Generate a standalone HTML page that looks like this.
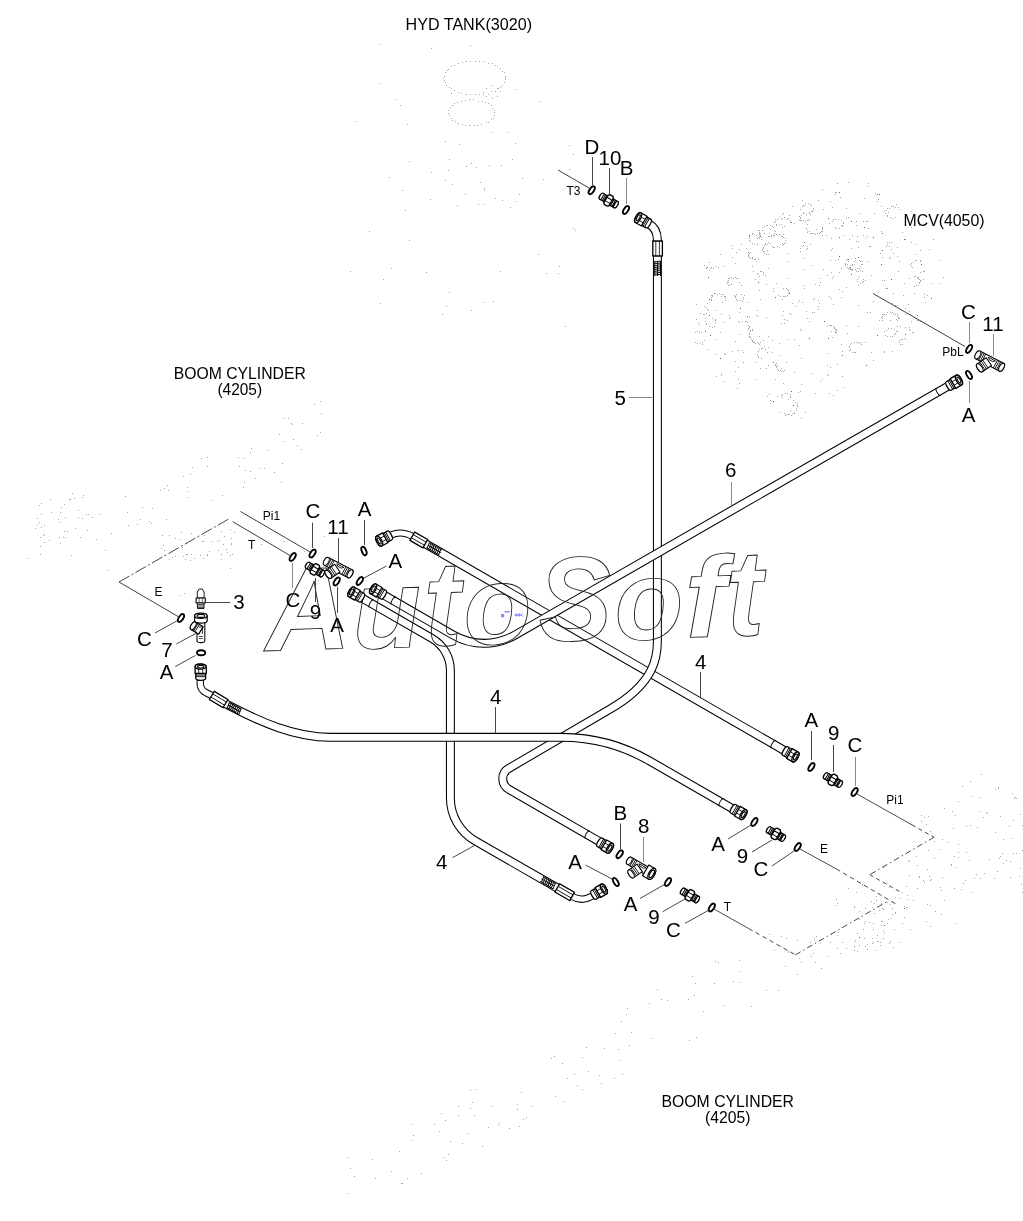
<!DOCTYPE html>
<html><head><meta charset="utf-8"><title>Hydraulic piping</title>
<style>
html,body{margin:0;padding:0;background:#fff;}
svg{display:block;will-change:transform;font-family:"Liberation Sans",sans-serif;}
svg text{fill:#000;}
</style></head><body>
<svg width="1023" height="1221" viewBox="0 0 1023 1221">
<rect width="1023" height="1221" fill="#fff"/>
<path d="M505,77.5h1M505,79.5h1M504,82.5h1M502,85.5h1M500,87.5h1M497,88.5h1M495,91.5h1M491,91.5h1M488,94.5h1M483,94.5h1M479,94.5h1M475,94.5h1M470,94.5h1M466,94.5h1M461,93.5h1M458,92.5h1M454,90.5h1M451,88.5h1M449,87.5h1M446,85.5h1M445,82.5h1M444,80.5h1M443,78.5h1M444,76.5h1M445,72.5h1M447,70.5h1M448,69.5h1M451,66.5h1M454,65.5h1M458,63.5h1M462,62.5h1M466,61.5h1M470,61.5h1M475,61.5h1M479,61.5h1M483,61.5h1M488,63.5h1M492,63.5h1M495,65.5h1M497,66.5h1M500,68.5h1M502,71.5h1M504,72.5h1M505,76.5h1M494,112.5h1M494,115.5h1M493,118.5h1M491,119.5h1M488,122.5h1M486,122.5h1M481,124.5h1M477,125.5h1M474,125.5h1M469,125.5h1M465,125.5h1M462,124.5h1M458,123.5h1M455,121.5h1M452,120.5h1M451,118.5h1M449,115.5h1M448,113.5h1M448,110.5h1M450,107.5h1M452,105.5h1M454,103.5h1M457,102.5h1M461,101.5h1M465,100.5h1M469,99.5h1M473,99.5h1M478,101.5h1M482,101.5h1M485,102.5h1M488,103.5h1M491,105.5h1M492,108.5h1M494,110.5h1M500,91.5h1M497,96.5h1M492,98.5h1M486,96.5h1M483,92.5h1M486,88.5h1M491,85.5h1M498,88.5h1M546,273.5h1M538,254.5h1M402,190.5h1M431,48.5h1M356,121.5h1M409,240.5h1M569,169.5h1M565,326.5h1M569,145.5h1M400,105.5h1M395,99.5h1M493,301.5h1M543,179.5h1M500,271.5h1M369,231.5h1M559,266.5h1M522,178.5h1M391,268.5h1M426,272.5h1M573,154.5h1M442,314.5h1M516,89.5h1M379,83.5h1M558,273.5h1M383,279.5h1M575,230.5h1M430,199.5h1M380,44.5h1M573,228.5h1M471,310.5h1M449,292.5h1M540,101.5h1M407,124.5h1M405,210.5h1M409,161.5h1M380,303.5h1M431,172.5h1M484,302.5h1M446,306.5h1M465,194.5h1M470,45.5h1M451,93.5h1M350,271.5h1M389,177.5h1M516,201.5h1M466,166.5h1M484,190.5h1M448,170.5h1M459,144.5h1M501,165.5h1M484,188.5h1M512,159.5h1M489,165.5h1M480,182.5h1M476,167.5h1M478,204.5h1M495,198.5h1M515,143.5h1M484,204.5h1M507,132.5h1M449,159.5h1M445,141.5h1M445,180.5h1M502,200.5h1M452,184.5h1M492,132.5h1M510,207.5h1M457,205.5h1M471,163.5h1M519,194.5h1M731,284.5h1M729,284.5h1M727,283.5h1M728,282.5h1M727,281.5h1M728,280.5h1M728,278.5h1M729,278.5h1M731,277.5h1M733,278.5h1M735,277.5h1M736,278.5h1M738,278.5h1M863,279.5h1M863,281.5h1M862,282.5h1M860,283.5h1M857,281.5h1M857,279.5h1M858,277.5h1M768,254.5h1M766,254.5h1M766,254.5h1M764,253.5h1M764,251.5h1M763,251.5h1M762,250.5h1M762,249.5h1M763,248.5h1M763,247.5h1M764,245.5h1M765,244.5h1M765,243.5h1M767,244.5h1M768,242.5h1M770,243.5h1M902,344.5h1M900,344.5h1M899,342.5h1M899,340.5h1M901,339.5h1M902,339.5h1M904,338.5h1M906,339.5h1M762,230.5h1M762,227.5h1M764,226.5h1M766,225.5h1M767,225.5h1M770,225.5h1M772,226.5h1M773,227.5h1M774,230.5h1M775,231.5h1M774,233.5h1M773,235.5h1M771,235.5h1M768,236.5h1M827,326.5h1M827,326.5h1M829,325.5h1M830,325.5h1M831,325.5h1M833,326.5h1M834,328.5h1M834,327.5h1M835,329.5h1M836,329.5h1M836,330.5h1M835,331.5h1M836,332.5h1M835,332.5h1M855,352.5h1M854,352.5h1M852,352.5h1M849,350.5h1M850,349.5h1M849,347.5h1M849,346.5h1M850,344.5h1M851,343.5h1M854,342.5h1M856,342.5h1M858,342.5h1M859,343.5h1M861,342.5h1M861,344.5h1M800,251.5h1M800,248.5h1M800,248.5h1M802,246.5h1M803,245.5h1M807,246.5h1M807,248.5h1M806,249.5h1M757,244.5h1M754,244.5h1M752,243.5h1M750,241.5h1M749,240.5h1M749,238.5h1M749,236.5h1M752,234.5h1M754,234.5h1M756,235.5h1M760,235.5h1M761,237.5h1M761,239.5h1M822,227.5h1M822,228.5h1M822,229.5h1M822,231.5h1M821,231.5h1M820,232.5h1M819,233.5h1M817,233.5h1M817,233.5h1M815,234.5h1M814,233.5h1M812,233.5h1M811,233.5h1M810,233.5h1M809,231.5h1M807,232.5h1M807,230.5h1M806,228.5h1M793,400.5h1M795,402.5h1M797,403.5h1M797,405.5h1M797,406.5h1M796,408.5h1M796,410.5h1M796,410.5h1M794,412.5h1M794,413.5h1M792,413.5h1M791,415.5h1M789,414.5h1M788,414.5h1M786,414.5h1M786,414.5h1M784,413.5h1M758,230.5h1M759,230.5h1M759,232.5h1M759,233.5h1M760,233.5h1M759,234.5h1M760,236.5h1M759,236.5h1M759,238.5h1M758,237.5h1M757,238.5h1M852,270.5h1M852,270.5h1M851,269.5h1M849,269.5h1M850,268.5h1M849,267.5h1M850,267.5h1M850,265.5h1M852,264.5h1M852,265.5h1M854,264.5h1M769,236.5h1M771,236.5h1M774,235.5h1M776,234.5h1M777,235.5h1M781,236.5h1M782,236.5h1M783,237.5h1M785,238.5h1M785,240.5h1M785,242.5h1M784,243.5h1M783,244.5h1M782,245.5h1M779,247.5h1M777,246.5h1M774,247.5h1M773,247.5h1M772,246.5h1M711,300.5h1M711,299.5h1M711,297.5h1M712,296.5h1M712,295.5h1M714,293.5h1M715,293.5h1M717,294.5h1M719,293.5h1M721,294.5h1M723,294.5h1M724,296.5h1M725,296.5h1M725,298.5h1M725,300.5h1M912,267.5h1M911,266.5h1M910,264.5h1M911,263.5h1M913,262.5h1M915,260.5h1M916,260.5h1M920,260.5h1M924,271.5h1M923,271.5h1M920,272.5h1M784,226.5h1M782,227.5h1M779,225.5h1M776,225.5h1M776,224.5h1M774,222.5h1M775,221.5h1M775,219.5h1M777,219.5h1M779,217.5h1M782,218.5h1M784,217.5h1M787,219.5h1M788,218.5h1M790,220.5h1M790,222.5h1M895,217.5h1M892,218.5h1M890,217.5h1M887,216.5h1M887,215.5h1M885,213.5h1M886,210.5h1M887,208.5h1M889,208.5h1M891,206.5h1M893,206.5h1M895,207.5h1M898,207.5h1M899,209.5h1M809,219.5h1M808,220.5h1M807,220.5h1M805,221.5h1M803,220.5h1M801,220.5h1M800,218.5h1M800,218.5h1M800,217.5h1M799,216.5h1M801,215.5h1M803,213.5h1M715,266.5h1M713,268.5h1M711,267.5h1M710,268.5h1M707,267.5h1M706,268.5h1M706,267.5h1M704,265.5h1M784,370.5h1M783,371.5h1M781,371.5h1M780,370.5h1M778,370.5h1M778,370.5h1M777,369.5h1M776,367.5h1M776,366.5h1M775,365.5h1M775,364.5h1M776,363.5h1M829,223.5h1M829,223.5h1M832,221.5h1M833,219.5h1M835,219.5h1M838,219.5h1M841,220.5h1M843,222.5h1M843,223.5h1M842,225.5h1M842,226.5h1M839,228.5h1M836,228.5h1M835,227.5h1M738,321.5h1M739,322.5h1M742,321.5h1M742,321.5h1M745,321.5h1M746,321.5h1M746,321.5h1M747,322.5h1M748,325.5h1M749,326.5h1M749,327.5h1M748,328.5h1M748,329.5h1M760,342.5h1M759,344.5h1M758,343.5h1M757,342.5h1M755,343.5h1M754,342.5h1M753,342.5h1M752,341.5h1M752,340.5h1M751,339.5h1M750,337.5h1M749,337.5h1M749,336.5h1M749,333.5h1M749,334.5h1M750,331.5h1M750,330.5h1M752,330.5h1M752,329.5h1M712,318.5h1M715,319.5h1M715,320.5h1M715,322.5h1M714,326.5h1M712,327.5h1M709,326.5h1M706,324.5h1M706,323.5h1M705,321.5h1M705,318.5h1M761,358.5h1M758,357.5h1M758,356.5h1M757,354.5h1M758,351.5h1M759,349.5h1M761,348.5h1M762,348.5h1M765,349.5h1M765,349.5h1M767,352.5h1M741,294.5h1M744,295.5h1M743,297.5h1M743,299.5h1M742,301.5h1M740,300.5h1M737,300.5h1M736,299.5h1M735,297.5h1M734,295.5h1M736,294.5h1M782,397.5h1M781,395.5h1M782,394.5h1M785,393.5h1M787,393.5h1M790,394.5h1M790,396.5h1M790,397.5h1M788,399.5h1M758,259.5h1M755,259.5h1M754,259.5h1M754,259.5h1M752,258.5h1M750,258.5h1M749,257.5h1M748,255.5h1M748,256.5h1M748,254.5h1M749,253.5h1M748,252.5h1M750,252.5h1M914,276.5h1M915,276.5h1M917,277.5h1M918,277.5h1M918,278.5h1M919,279.5h1M920,280.5h1M920,281.5h1M919,282.5h1M919,283.5h1M918,285.5h1M916,285.5h1M916,285.5h1M914,286.5h1M704,306.5h1M706,307.5h1M707,309.5h1M708,310.5h1M706,313.5h1M704,314.5h1M703,314.5h1M700,313.5h1M758,274.5h1M757,273.5h1M760,271.5h1M761,271.5h1M763,272.5h1M763,274.5h1M884,331.5h1M886,330.5h1M888,328.5h1M891,328.5h1M894,329.5h1M896,331.5h1M895,333.5h1M894,334.5h1M892,336.5h1M890,336.5h1M887,336.5h1M885,335.5h1M859,260.5h1M860,261.5h1M862,261.5h1M861,264.5h1M862,264.5h1M860,266.5h1M859,268.5h1M857,268.5h1M855,269.5h1M852,269.5h1M850,269.5h1M848,268.5h1M847,267.5h1M845,265.5h1M845,264.5h1M845,263.5h1M846,260.5h1M847,259.5h1M800,209.5h1M802,206.5h1M803,205.5h1M805,203.5h1M808,203.5h1M810,204.5h1M811,205.5h1M813,208.5h1M813,210.5h1M812,211.5h1M811,211.5h1M809,213.5h1M806,214.5h1M783,288.5h1M786,288.5h1M787,289.5h1M788,290.5h1M789,292.5h1M789,293.5h1M788,293.5h1M787,295.5h1M786,296.5h1M784,296.5h1M783,296.5h1M780,296.5h1M778,295.5h1M918,320.5h1M920,321.5h1M913,332.5h1M912,332.5h1M910,330.5h1M909,327.5h1M882,320.5h1M882,318.5h1M881,317.5h1M882,316.5h1M882,314.5h1M883,314.5h1M884,314.5h1M886,314.5h1M887,312.5h1M890,312.5h1M892,312.5h1M893,313.5h1M895,314.5h1M897,314.5h1M897,316.5h1M898,317.5h1M898,318.5h1M899,318.5h1M704,340.5h1M704,340.5h1M702,342.5h1M700,343.5h1M697,343.5h1M695,342.5h1M695,332.5h1M697,331.5h1M699,332.5h1M701,332.5h1M889,246.5h1M886,246.5h1M887,244.5h1M887,242.5h1M889,242.5h1M891,242.5h1M828,374.5h1M743,362.5h1M841,344.5h1M807,224.5h1M756,362.5h1M885,288.5h1M716,376.5h1M881,231.5h1M908,304.5h1M809,321.5h1M738,350.5h1M782,315.5h1M792,303.5h1M720,332.5h1M884,211.5h1M838,259.5h1M903,295.5h1M831,238.5h1M882,280.5h1M829,393.5h1M805,412.5h1M839,272.5h1M756,315.5h1M856,271.5h1M803,212.5h1M756,261.5h1M884,352.5h1M858,247.5h1M837,364.5h1M720,254.5h1M810,214.5h1M867,221.5h1M728,285.5h1M897,331.5h1M804,258.5h1M893,293.5h1M846,208.5h1M867,312.5h1M759,276.5h1M897,256.5h1M735,296.5h1M771,401.5h1M856,225.5h1M810,244.5h1M870,246.5h1M889,258.5h1M895,305.5h1M739,282.5h1M832,207.5h1M738,367.5h1M866,221.5h1M841,297.5h1M842,351.5h1M890,320.5h1M871,275.5h1M868,186.5h1M890,257.5h1M914,293.5h1M905,239.5h1M739,383.5h1M783,213.5h1M784,323.5h1M696,304.5h1M802,302.5h1M724,353.5h1M772,352.5h1M786,362.5h1M924,297.5h1M818,306.5h1M755,379.5h1M863,221.5h1M699,324.5h1M833,304.5h1M864,198.5h1M813,299.5h1M792,206.5h1M837,390.5h1M730,317.5h1M874,213.5h1M788,278.5h1M897,305.5h1M790,411.5h1M882,257.5h1M752,257.5h1M707,303.5h1M755,279.5h1M847,264.5h1M822,189.5h1M799,300.5h1M849,239.5h1M858,241.5h1M844,235.5h1M820,282.5h1M768,336.5h1M724,322.5h1M925,302.5h1M759,290.5h1M823,209.5h1M765,275.5h1M764,233.5h1M716,310.5h1M897,326.5h1M832,337.5h1M743,352.5h1M806,311.5h1M842,291.5h1M769,233.5h1M748,302.5h1M787,320.5h1M902,232.5h1M829,296.5h1M766,368.5h1M904,283.5h1M709,270.5h1M801,358.5h1M732,257.5h1M779,343.5h1M843,387.5h1M892,303.5h1M873,360.5h1M878,292.5h1M884,351.5h1M879,320.5h1M832,278.5h1M841,268.5h1M804,288.5h1M869,246.5h1M789,313.5h1M787,253.5h1M815,284.5h1M739,249.5h1M729,318.5h1M835,194.5h1M916,254.5h1M797,403.5h1M831,298.5h1M819,303.5h1M860,270.5h1M781,323.5h1M779,412.5h1M858,305.5h1M718,267.5h1M791,314.5h1M833,395.5h1M927,295.5h1M801,330.5h1M822,379.5h1M736,252.5h1M818,200.5h1M909,278.5h1M732,245.5h1M818,300.5h1M846,325.5h1M848,182.5h1M794,372.5h1M768,347.5h1M897,320.5h1M856,221.5h1M814,312.5h1M759,336.5h1M833,276.5h1M878,199.5h1M820,381.5h1M842,376.5h1M880,253.5h1M867,261.5h1M835,260.5h1M803,269.5h1M800,329.5h1M770,400.5h1M891,249.5h1M753,271.5h1M868,228.5h1M769,394.5h1M811,373.5h1M781,219.5h1M830,201.5h1M823,269.5h1M724,381.5h1M779,234.5h1M741,244.5h1M855,258.5h1M732,351.5h1M896,204.5h1M801,384.5h1M888,212.5h1M780,355.5h1M785,415.5h1M816,229.5h1M804,205.5h1M865,238.5h1M911,321.5h1M783,234.5h1M841,225.5h1M818,309.5h1M760,368.5h1M787,339.5h1M831,250.5h1M737,388.5h1M772,340.5h1M721,314.5h1M782,299.5h1M770,229.5h1M725,354.5h1M763,274.5h1M702,344.5h1M854,261.5h1M794,339.5h1M863,235.5h1M899,261.5h1M846,218.5h1M871,352.5h1M768,268.5h1M848,217.5h1M897,316.5h1M867,236.5h1M799,345.5h1M900,326.5h1M721,373.5h1M875,193.5h1M862,271.5h1M923,279.5h1M846,287.5h1M708,349.5h1M798,302.5h1M757,310.5h1M826,235.5h1M709,262.5h1M794,223.5h1M865,342.5h1M752,233.5h1M819,285.5h1M920,261.5h1M767,396.5h1M729,315.5h1M775,379.5h1M827,365.5h1M735,341.5h1M839,289.5h1M781,224.5h1M742,350.5h1M802,200.5h1M773,291.5h1M782,214.5h1M715,354.5h1M721,296.5h1M799,220.5h1M852,235.5h1M897,247.5h1M739,334.5h1M735,371.5h1M893,253.5h1M783,311.5h1M783,383.5h1M831,331.5h1M892,351.5h1M814,298.5h1M732,248.5h1M835,192.5h1M860,213.5h1M801,418.5h1M800,220.5h1M884,280.5h1M763,340.5h1M819,278.5h1M776,283.5h1M766,284.5h1M830,260.5h1M773,288.5h1M858,326.5h1M766,317.5h1M924,294.5h1M851,248.5h1M777,396.5h1M858,285.5h1M715,339.5h1M784,319.5h1M795,306.5h1M831,272.5h1M909,311.5h1M822,235.5h1M812,312.5h1M749,317.5h1M722,302.5h1M836,192.5h1M800,391.5h1M827,353.5h1M877,201.5h1M789,215.5h1M881,206.5h1M752,266.5h1M698,322.5h1M746,248.5h1M865,280.5h1M909,329.5h1M905,314.5h1M735,361.5h1M777,365.5h1M724,266.5h1M868,183.5h1M840,197.5h1M827,375.5h1M857,236.5h1M741,285.5h1M896,319.5h1M721,375.5h1M739,312.5h1M764,346.5h1M905,308.5h1M815,393.5h1M738,379.5h1M858,271.5h1M809,212.5h1M898,271.5h1M905,327.5h1M837,183.5h1M735,263.5h1M807,318.5h1M788,261.5h1M696,319.5h1M856,241.5h1M760,299.5h1M758,316.5h1M830,367.5h1M847,333.5h1M782,243.5h1M768,365.5h1M873,301.5h1M848,261.5h1M827,275.5h1M811,265.5h1M804,285.5h1M832,248.5h1M767,250.5h1M870,312.5h1M917,320.5h1M781,368.5h1M798,392.5h1M711,295.5h1M911,242.5h1M943,277.5h1M911,227.5h1M933,239.5h1M931,283.5h1M940,283.5h1M926,216.5h1M916,244.5h1M911,211.5h1M920,250.5h1M939,260.5h1M929,249.5h1M919,225.5h1M99,514.5h1M314,404.5h1M244,458.5h1M92,517.5h1M260,468.5h1M250,471.5h1M238,457.5h1M88,514.5h1M187,487.5h1M187,497.5h1M283,441.5h1M71,555.5h1M166,519.5h1M284,418.5h1M244,482.5h1M239,466.5h1M251,448.5h1M250,452.5h1M149,521.5h1M282,463.5h1M142,507.5h1M320,432.5h1M137,524.5h1M264,468.5h1M188,491.5h1M167,485.5h1M160,490.5h1M40,554.5h1M152,508.5h1M302,423.5h1M125,496.5h1M183,476.5h1M297,445.5h1M192,467.5h1M168,490.5h1M207,466.5h1M279,434.5h1M190,474.5h1M201,458.5h1M105,550.5h1M111,533.5h1M291,423.5h1M317,435.5h1M151,523.5h1M28,558.5h1M207,457.5h1M292,424.5h1M140,519.5h1M255,478.5h1M288,418.5h1M321,413.5h1M212,500.5h1M293,439.5h1M320,401.5h1M96,539.5h1M40,537.5h1M63,537.5h1M65,517.5h1M35,528.5h1M37,524.5h1M51,512.5h1M69,499.5h1M40,546.5h1M49,540.5h1M82,518.5h1M82,497.5h1M59,522.5h1M37,518.5h1M39,522.5h1M60,512.5h1M41,514.5h1M44,542.5h1M60,543.5h1M59,537.5h1M64,531.5h1M43,535.5h1M39,505.5h1M61,507.5h1M83,495.5h1M64,504.5h1M65,537.5h1M72,493.5h1M44,525.5h1M67,531.5h1M78,510.5h1M78,517.5h1M86,514.5h1M44,534.5h1M70,499.5h1M41,503.5h1M58,519.5h1M75,528.5h1M41,527.5h1M80,537.5h1M50,499.5h1M87,530.5h1M74,498.5h1M221,559.5h1M227,552.5h1M221,554.5h1M202,541.5h1M221,554.5h1M224,536.5h1M231,544.5h1M230,529.5h1M232,554.5h1M175,556.5h1M191,533.5h1M194,558.5h1M209,551.5h1M186,554.5h1M218,550.5h1M230,555.5h1M207,555.5h1M182,547.5h1M221,554.5h1M219,540.5h1M203,541.5h1M181,532.5h1M183,556.5h1M204,535.5h1M162,535.5h1M211,541.5h1M207,554.5h1M164,550.5h1M169,535.5h1M231,538.5h1M172,557.5h1M203,558.5h1M186,543.5h1M231,543.5h1M234,532.5h1M221,531.5h1M169,559.5h1M191,554.5h1M175,538.5h1M163,545.5h1M223,544.5h1M185,559.5h1M226,549.5h1M161,548.5h1M190,560.5h1M180,539.5h1M243,487.5h1M217,541.5h1M308,509.5h1M180,595.5h1M108,570.5h1M255,520.5h1M200,555.5h1M304,551.5h1M318,580.5h1M128,525.5h1M187,554.5h1M245,470.5h1M274,472.5h1M222,495.5h1M324,536.5h1M284,541.5h1M184,593.5h1M261,544.5h1M230,568.5h1M281,482.5h1M127,512.5h1M301,449.5h1M268,450.5h1M164,488.5h1M984,873.5h1M854,907.5h1M703,1011.5h1M615,1033.5h1M769,934.5h1M488,1127.5h1M482,1146.5h1M739,960.5h1M689,1040.5h1M1013,820.5h1M472,1102.5h1M692,976.5h1M475,1089.5h1M348,1157.5h1M445,1120.5h1M724,1005.5h1M354,1176.5h1M840,953.5h1M651,1038.5h1M467,1133.5h1M412,1124.5h1M695,983.5h1M618,1049.5h1M854,906.5h1M411,1140.5h1M554,1056.5h1M999,858.5h1M526,1117.5h1M906,886.5h1M958,857.5h1M434,1124.5h1M509,1128.5h1M862,885.5h1M778,990.5h1M930,880.5h1M439,1131.5h1M956,867.5h1M470,1108.5h1M614,1078.5h1M348,1193.5h1M909,875.5h1M574,1074.5h1M450,1141.5h1M696,1037.5h1M739,982.5h1M375,1178.5h1M626,1014.5h1M997,871.5h1M391,1171.5h1M766,990.5h1M994,878.5h1M954,888.5h1M842,942.5h1M582,1089.5h1M474,1115.5h1M835,905.5h1M521,1092.5h1M1014,798.5h1M1002,853.5h1M519,1126.5h1M837,935.5h1M813,953.5h1M470,1090.5h1M882,921.5h1M555,1096.5h1M909,861.5h1M458,1115.5h1M1003,839.5h1M517,1104.5h1M413,1135.5h1M1016,853.5h1M458,1106.5h1M620,1060.5h1M895,897.5h1M788,951.5h1M940,849.5h1M372,1159.5h1M714,983.5h1M884,886.5h1M551,1058.5h1M694,995.5h1M878,941.5h1M491,1106.5h1M887,883.5h1M564,1101.5h1M883,867.5h1M629,1045.5h1M627,1008.5h1M811,956.5h1M444,1157.5h1M582,1057.5h1M715,961.5h1M667,1000.5h1M604,1048.5h1M876,900.5h1M401,1183.5h1M733,981.5h1M601,1083.5h1M622,1074.5h1M448,1154.5h1M970,825.5h1M441,1113.5h1M740,971.5h1M977,827.5h1M836,899.5h1M631,1032.5h1M774,950.5h1M399,1151.5h1M657,989.5h1M876,896.5h1M963,883.5h1M407,1178.5h1M848,888.5h1M718,962.5h1M661,999.5h1M586,1047.5h1M462,1143.5h1M588,1071.5h1M621,1021.5h1M856,892.5h1M902,892.5h1M862,884.5h1M649,1003.5h1M797,974.5h1M892,914.5h1M577,1085.5h1M446,1160.5h1M599,1075.5h1M499,1123.5h1M889,887.5h1M867,949.5h1M421,1173.5h1M567,1078.5h1M961,889.5h1M562,1063.5h1M751,1006.5h1M523,1119.5h1M517,1109.5h1M1010,861.5h1M688,999.5h1M498,1125.5h1M837,903.5h1M917,865.5h1M350,1168.5h1M929,876.5h1M883,909.5h1M402,1183.5h1M928,850.5h1M532,1106.5h1M907,895.5h1M890,918.5h1M865,908.5h1M904,917.5h1M881,925.5h1M855,940.5h1M893,947.5h1M872,907.5h1M872,938.5h1M888,919.5h1M881,904.5h1M902,923.5h1M880,942.5h1M864,938.5h1M872,943.5h1M859,911.5h1M887,923.5h1M873,929.5h1M865,921.5h1M854,942.5h1M867,944.5h1M883,931.5h1M887,902.5h1M895,912.5h1M899,942.5h1M889,943.5h1M877,935.5h1M904,906.5h1M859,919.5h1M881,903.5h1M865,946.5h1M874,903.5h1M863,929.5h1M864,923.5h1M882,921.5h1M880,945.5h1M854,950.5h1M894,929.5h1M882,908.5h1M895,913.5h1M892,908.5h1M884,933.5h1M873,923.5h1M857,933.5h1M890,904.5h1M883,938.5h1M859,945.5h1M900,898.5h1M879,910.5h1M869,922.5h1M873,942.5h1M892,901.5h1M871,901.5h1M890,941.5h1M906,907.5h1M855,940.5h1M875,950.5h1M874,913.5h1M857,951.5h1M881,921.5h1M877,941.5h1M951,865.5h1M916,856.5h1M954,856.5h1M942,877.5h1M931,879.5h1M919,876.5h1M952,811.5h1M926,921.5h1M958,801.5h1M940,887.5h1M951,864.5h1M913,841.5h1M944,900.5h1M917,888.5h1M941,890.5h1M908,860.5h1M924,882.5h1M924,817.5h1M942,839.5h1M948,842.5h1M935,911.5h1M913,900.5h1M910,929.5h1M908,899.5h1M926,824.5h1M927,869.5h1M928,816.5h1M934,841.5h1M958,852.5h1M930,831.5h1M958,844.5h1M941,914.5h1M927,904.5h1M921,815.5h1M909,861.5h1M953,828.5h1M930,905.5h1M921,821.5h1M934,858.5h1M956,923.5h1M919,877.5h1M930,926.5h1M923,880.5h1M944,808.5h1M955,815.5h1M801,962.5h1M781,946.5h1M788,951.5h1M781,936.5h1M786,938.5h1M816,936.5h1M837,948.5h1M797,940.5h1M838,932.5h1M831,934.5h1M846,948.5h1M821,968.5h1M828,956.5h1M830,942.5h1M814,938.5h1M810,942.5h1M820,943.5h1M799,958.5h1M785,966.5h1M814,940.5h1M788,952.5h1M815,962.5h1M983,817.5h1M1016,798.5h1M1021,884.5h1M1022,892.5h1M976,874.5h1M998,788.5h1M1022,850.5h1M1011,838.5h1M965,880.5h1M971,796.5h1M998,787.5h1M989,859.5h1M966,852.5h1M966,826.5h1M1000,856.5h1M962,786.5h1M1020,814.5h1M986,812.5h1M1003,863.5h1M1000,816.5h1M995,832.5h1M971,892.5h1M1020,868.5h1M1022,825.5h1M1012,793.5h1M1006,860.5h1M1019,876.5h1M1015,797.5h1M1009,826.5h1M979,811.5h1M1010,877.5h1M1013,853.5h1M970,781.5h1M995,789.5h1M981,774.5h1M969,860.5h1M974,878.5h1M980,878.5h1M979,797.5h1M987,813.5h1" stroke="#a8a8a8" stroke-width="1" fill="none" shape-rendering="crispEdges"/>
<path d="M864,227.5h1M791,222.5h1M851,221.5h1M839,192.5h1M740,308.5h1M905,334.5h1M773,362.5h1M851,274.5h1M858,257.5h1M708,277.5h1M705,331.5h1M775,297.5h1M839,237.5h1M917,315.5h1M842,355.5h1M879,194.5h1M891,279.5h1M824,321.5h1M828,338.5h1M839,256.5h1M873,237.5h1M866,365.5h1M882,250.5h1M804,242.5h1M809,338.5h1M881,264.5h1M877,194.5h1M709,299.5h1M828,218.5h1M921,264.5h1M882,233.5h1M931,298.5h1M848,259.5h1M887,288.5h1M773,401.5h1M720,358.5h1M710,335.5h1M791,391.5h1M709,315.5h1M793,405.5h1M749,235.5h1M758,282.5h1M877,335.5h1M747,316.5h1M904,239.5h1M854,946.5h1M904,908.5h1M859,937.5h1M884,925.5h1" stroke="#666" stroke-width="1" fill="none" shape-rendering="crispEdges"/>
<path d="M388.5,536.5 C396,532 403,531.5 413,536.6" fill="none" stroke="#000" stroke-width="7.35"/><path d="M388.5,536.5 C396,532 403,531.5 413,536.6" fill="none" stroke="#fff" stroke-width="5.25"/>
<path d="M200.4,678 L200.2,683 C200,691 206,692.8 213,696" fill="none" stroke="#000" stroke-width="7.35"/><path d="M200.4,678 L200.2,683 C200,691 206,692.8 213,696" fill="none" stroke="#fff" stroke-width="5.25"/>
<path d="M572,896.4 C580,901 586,899.8 595,894.4" fill="none" stroke="#000" stroke-width="7.35"/><path d="M572,896.4 C580,901 586,899.8 595,894.4" fill="none" stroke="#fff" stroke-width="5.25"/>
<path d="M412,536 L786,751.5" fill="none" stroke="#000" stroke-width="8.950000000000001"/><path d="M412,536 L786,751.5" fill="none" stroke="#fff" stroke-width="6.8500000000000005"/>
<path d="M360.5,597.2 L431.9,638.4 A37 37 0 0 1 450.4,670.5 L450.4,798 A49.5 49.5 0 0 0 475.2,840.9 L573,897" fill="none" stroke="#000" stroke-width="8.950000000000001"/><path d="M360.5,597.2 L431.9,638.4 A37 37 0 0 1 450.4,670.5 L450.4,798 A49.5 49.5 0 0 0 475.2,840.9 L573,897" fill="none" stroke="#fff" stroke-width="6.8500000000000005"/>
<path d="M648,223.3 C653,226 657.4,231.5 657.4,240 L657.4,641 C657.4,656 655.5,682.9 610,709.1 L509,768.3 A12 12 0 0 0 509,789.4 L601.5,842.8" fill="none" stroke="#000" stroke-width="8.950000000000001"/><path d="M648,223.3 C653,226 657.4,231.5 657.4,240 L657.4,641 C657.4,656 655.5,682.9 610,709.1 L509,768.3 A12 12 0 0 0 509,789.4 L601.5,842.8" fill="none" stroke="#fff" stroke-width="6.8500000000000005"/>
<path d="M212,695.5 L227,704.5 C260,722 295,737.3 330,737.3 L561.7,737.3 A175 175 0 0 1 649.5,760.9 L734.5,809.9" fill="none" stroke="#000" stroke-width="8.950000000000001"/><path d="M212,695.5 L227,704.5 C260,722 295,737.3 330,737.3 L561.7,737.3 A175 175 0 0 1 649.5,760.9 L734.5,809.9" fill="none" stroke="#fff" stroke-width="6.8500000000000005"/>
<path d="M382.4,594.2 L453,634.95 A62 62 0 0 0 515,635.05 L949,385.6" fill="none" stroke="#000" stroke-width="8.950000000000001"/><path d="M382.4,594.2 L453,634.95 A62 62 0 0 0 515,635.05 L949,385.6" fill="none" stroke="#fff" stroke-width="6.8500000000000005"/>
<g id="wm" font-size="115" font-weight="bold" font-style="italic" style="fill:none" stroke="#222" stroke-width="0.9">
<text style="fill:none" transform="translate(266.0 651.0) rotate(-1.94) scale(1.0268 1.0241)">A</text>
<text style="fill:none" transform="translate(353.5 649.0) rotate(-1.94) scale(0.9844 0.9800)">u</text>
<text style="fill:none" transform="translate(425.5 646.0) rotate(-1.94) scale(0.9593 1.0513)">t</text>
<text style="fill:none" transform="translate(464.5 645.0) rotate(-1.94) scale(0.9704 0.9736)">o</text>
<text style="fill:none" transform="translate(539.5 641.5) rotate(-1.94) scale(0.9582 1.0398)">S</text>
<text style="fill:none" transform="translate(615.5 640.5) rotate(-1.94) scale(0.9829 0.9832)">o</text>
<text style="fill:none" transform="translate(686.0 637.5) rotate(-1.94) scale(1.0746 0.9965)">f</text>
<text style="fill:none" transform="translate(727.5 636.0) rotate(-1.94) scale(0.9658 1.0641)">t</text>
</g>
<path d="M501,614h3.2v3.2h-3.2zM504.6,611h5v1.4h-5zM514.6,614.2h9.4v1.6h-9.4zM514.2,615l2.4,-2v4zM524.4,615l-2.4,-2v4zM519.3,613l1.5,2l-1.5,2l-1.5,-2z" fill="#8a8aff"/>
<ellipse cx="591.7" cy="190.3" rx="2.15" ry="4.45" transform="rotate(33 591.7 190.3)" fill="none" stroke="#000" stroke-width="1.9"/>
<ellipse cx="626" cy="210" rx="2.15" ry="4.45" transform="rotate(33 626 210)" fill="none" stroke="#000" stroke-width="1.9"/>
<ellipse cx="969.1" cy="348.9" rx="2.15" ry="4.45" transform="rotate(32 969.1 348.9)" fill="none" stroke="#000" stroke-width="1.9"/>
<ellipse cx="969" cy="375" rx="2.15" ry="4.45" transform="rotate(-30 969 375)" fill="none" stroke="#000" stroke-width="1.9"/>
<ellipse cx="312.6" cy="553.5" rx="2.15" ry="4.45" transform="rotate(33 312.6 553.5)" fill="none" stroke="#000" stroke-width="1.9"/>
<ellipse cx="292.7" cy="557" rx="2.15" ry="4.45" transform="rotate(33 292.7 557)" fill="none" stroke="#000" stroke-width="1.9"/>
<ellipse cx="364" cy="551" rx="2.15" ry="4.45" transform="rotate(-22 364 551)" fill="none" stroke="#000" stroke-width="1.9"/>
<ellipse cx="336.7" cy="581.5" rx="2.15" ry="4.45" transform="rotate(33 336.7 581.5)" fill="none" stroke="#000" stroke-width="1.9"/>
<ellipse cx="359.8" cy="581" rx="2.15" ry="4.45" transform="rotate(35 359.8 581)" fill="none" stroke="#000" stroke-width="1.9"/>
<ellipse cx="181" cy="618" rx="2.15" ry="4.45" transform="rotate(33 181 618)" fill="none" stroke="#000" stroke-width="1.9"/>
<ellipse cx="811.4" cy="767" rx="2.15" ry="4.45" transform="rotate(33 811.4 767)" fill="none" stroke="#000" stroke-width="1.9"/>
<ellipse cx="854.6" cy="792" rx="2.15" ry="4.45" transform="rotate(33 854.6 792)" fill="none" stroke="#000" stroke-width="1.9"/>
<ellipse cx="754.4" cy="822" rx="2.15" ry="4.45" transform="rotate(33 754.4 822)" fill="none" stroke="#000" stroke-width="1.9"/>
<ellipse cx="797.7" cy="847" rx="2.15" ry="4.45" transform="rotate(33 797.7 847)" fill="none" stroke="#000" stroke-width="1.9"/>
<ellipse cx="619.7" cy="854.3" rx="2.15" ry="4.45" transform="rotate(35 619.7 854.3)" fill="none" stroke="#000" stroke-width="1.9"/>
<ellipse cx="615.8" cy="882" rx="2.15" ry="4.45" transform="rotate(-30 615.8 882)" fill="none" stroke="#000" stroke-width="1.9"/>
<ellipse cx="668" cy="882" rx="2.15" ry="4.45" transform="rotate(33 668 882)" fill="none" stroke="#000" stroke-width="1.9"/>
<ellipse cx="711.8" cy="907.5" rx="2.15" ry="4.45" transform="rotate(33 711.8 907.5)" fill="none" stroke="#000" stroke-width="1.9"/>
<ellipse cx="201.1" cy="652.8" rx="2.5" ry="4.1" transform="rotate(90 201.1 652.8)" fill="none" stroke="#000" stroke-width="1.9"/>
<g transform="translate(608.8 200.5) rotate(30)" fill="#fff" stroke="#000" stroke-width="0.9" stroke-linejoin="round">
<path d="M-8.6,-3.4 L-3,-3.4 L-3,3.4 L-8.6,3.4 A1.6 3.4 0 0 1 -8.6,-3.4Z" stroke-width="1.3"/>
<path d="M-7.2,-3.4V3.4M-5.6,-3.4V3.4M-4.2,-3.4V3.4" stroke-width="1"/>
<path d="M2.5,-3.6 L8.2,-3.6 A1.7 3.6 0 0 1 8.2,3.6 L2.5,3.6Z" stroke-width="1.3"/>
<ellipse cx="8.2" cy="0" rx="1.7" ry="3.6" stroke-width="1.1"/>
<path d="M4,-3.6V3.6M5.6,-3.6V3.6M7,-3.6V3.6" stroke-width="1"/>
<path d="M-3.2,-4.4 L-2,-5.6 L1.6,-5.6 L2.8,-4.4 L2.8,4.4 L1.6,5.6 L-2,5.6 L-3.2,4.4Z" stroke-width="1.4"/>
<path d="M-3.2,-1.9H2.8M-3.2,1.9H2.8" stroke-width="0.9"/>
</g>
<g transform="translate(315 569.5) rotate(30)" fill="#fff" stroke="#000" stroke-width="0.9" stroke-linejoin="round">
<path d="M-8.6,-3.4 L-3,-3.4 L-3,3.4 L-8.6,3.4 A1.6 3.4 0 0 1 -8.6,-3.4Z" stroke-width="1.3"/>
<path d="M-7.2,-3.4V3.4M-5.6,-3.4V3.4M-4.2,-3.4V3.4" stroke-width="1"/>
<path d="M2.5,-3.6 L8.2,-3.6 A1.7 3.6 0 0 1 8.2,3.6 L2.5,3.6Z" stroke-width="1.3"/>
<ellipse cx="8.2" cy="0" rx="1.7" ry="3.6" stroke-width="1.1"/>
<path d="M4,-3.6V3.6M5.6,-3.6V3.6M7,-3.6V3.6" stroke-width="1"/>
<path d="M-3.2,-4.4 L-2,-5.6 L1.6,-5.6 L2.8,-4.4 L2.8,4.4 L1.6,5.6 L-2,5.6 L-3.2,4.4Z" stroke-width="1.4"/>
<path d="M-3.2,-1.9H2.8M-3.2,1.9H2.8" stroke-width="0.9"/>
</g>
<g transform="translate(833 780) rotate(30)" fill="#fff" stroke="#000" stroke-width="0.9" stroke-linejoin="round">
<path d="M-8.6,-3.4 L-3,-3.4 L-3,3.4 L-8.6,3.4 A1.6 3.4 0 0 1 -8.6,-3.4Z" stroke-width="1.3"/>
<path d="M-7.2,-3.4V3.4M-5.6,-3.4V3.4M-4.2,-3.4V3.4" stroke-width="1"/>
<path d="M2.5,-3.6 L8.2,-3.6 A1.7 3.6 0 0 1 8.2,3.6 L2.5,3.6Z" stroke-width="1.3"/>
<ellipse cx="8.2" cy="0" rx="1.7" ry="3.6" stroke-width="1.1"/>
<path d="M4,-3.6V3.6M5.6,-3.6V3.6M7,-3.6V3.6" stroke-width="1"/>
<path d="M-3.2,-4.4 L-2,-5.6 L1.6,-5.6 L2.8,-4.4 L2.8,4.4 L1.6,5.6 L-2,5.6 L-3.2,4.4Z" stroke-width="1.4"/>
<path d="M-3.2,-1.9H2.8M-3.2,1.9H2.8" stroke-width="0.9"/>
</g>
<g transform="translate(776 834) rotate(30)" fill="#fff" stroke="#000" stroke-width="0.9" stroke-linejoin="round">
<path d="M-8.6,-3.4 L-3,-3.4 L-3,3.4 L-8.6,3.4 A1.6 3.4 0 0 1 -8.6,-3.4Z" stroke-width="1.3"/>
<path d="M-7.2,-3.4V3.4M-5.6,-3.4V3.4M-4.2,-3.4V3.4" stroke-width="1"/>
<path d="M2.5,-3.6 L8.2,-3.6 A1.7 3.6 0 0 1 8.2,3.6 L2.5,3.6Z" stroke-width="1.3"/>
<ellipse cx="8.2" cy="0" rx="1.7" ry="3.6" stroke-width="1.1"/>
<path d="M4,-3.6V3.6M5.6,-3.6V3.6M7,-3.6V3.6" stroke-width="1"/>
<path d="M-3.2,-4.4 L-2,-5.6 L1.6,-5.6 L2.8,-4.4 L2.8,4.4 L1.6,5.6 L-2,5.6 L-3.2,4.4Z" stroke-width="1.4"/>
<path d="M-3.2,-1.9H2.8M-3.2,1.9H2.8" stroke-width="0.9"/>
</g>
<g transform="translate(690 895.4) rotate(30)" fill="#fff" stroke="#000" stroke-width="0.9" stroke-linejoin="round">
<path d="M-8.6,-3.4 L-3,-3.4 L-3,3.4 L-8.6,3.4 A1.6 3.4 0 0 1 -8.6,-3.4Z" stroke-width="1.3"/>
<path d="M-7.2,-3.4V3.4M-5.6,-3.4V3.4M-4.2,-3.4V3.4" stroke-width="1"/>
<path d="M2.5,-3.6 L8.2,-3.6 A1.7 3.6 0 0 1 8.2,3.6 L2.5,3.6Z" stroke-width="1.3"/>
<ellipse cx="8.2" cy="0" rx="1.7" ry="3.6" stroke-width="1.1"/>
<path d="M4,-3.6V3.6M5.6,-3.6V3.6M7,-3.6V3.6" stroke-width="1"/>
<path d="M-3.2,-4.4 L-2,-5.6 L1.6,-5.6 L2.8,-4.4 L2.8,4.4 L1.6,5.6 L-2,5.6 L-3.2,4.4Z" stroke-width="1.4"/>
<path d="M-3.2,-1.9H2.8M-3.2,1.9H2.8" stroke-width="0.9"/>
</g>
<g transform="translate(200.7 599) rotate(90)" fill="#fff" stroke="#000" stroke-width="0.9" stroke-linejoin="round">
<path d="M-10,-1.6 L-7,-3.4 L-1,-3.4 L-1,3.4 L-7,3.4 L-10,1.6Z"/>
<path d="M-1,-4.6 H4 V4.6 H-1Z" stroke-width="1.1"/><path d="M-1,-1.6H4M-1,1.6H4" stroke-width="0.6"/>
<path d="M4,-3.3 H9.5 V3.3 H4Z"/><path d="M5.5,-3.3V3.3M7,-3.3V3.3M8.4,-3.3V3.3" stroke-width="0.7"/>
</g>
<g transform="translate(641.6 219.6) rotate(30)" fill="#fff" stroke="#000" stroke-width="0.9" stroke-linejoin="round">
<path d="M2.5,-4.9 L8,-4.9 A1.8 4.9 0 0 1 8,4.9 L2.5,4.9Z" stroke-width="1.3"/>
<path d="M4.6,-4.9V4.9M6.2,-4.9V4.9" stroke-width="0.9"/>
<path d="M-4,-5.6 L3,-5.6 L3,5.6 L-4,5.6 A2.5 5.6 0 0 1 -4,-5.6Z" stroke-width="1.3"/>
<ellipse cx="-3.8" cy="0" rx="2.5" ry="5.5" stroke-width="1.3"/>
<ellipse cx="-3.8" cy="0" rx="1.3" ry="3.3" stroke-width="1.1"/>
<path d="M-1.6,-2H3M-1.6,2H3" stroke-width="0.8"/>
</g>
<g transform="translate(606.5 846.3) rotate(210)" fill="#fff" stroke="#000" stroke-width="0.9" stroke-linejoin="round">
<path d="M2.5,-4.9 L8,-4.9 A1.8 4.9 0 0 1 8,4.9 L2.5,4.9Z" stroke-width="1.3"/>
<path d="M4.6,-4.9V4.9M6.2,-4.9V4.9" stroke-width="0.9"/>
<path d="M-4,-5.6 L3,-5.6 L3,5.6 L-4,5.6 A2.5 5.6 0 0 1 -4,-5.6Z" stroke-width="1.3"/>
<ellipse cx="-3.8" cy="0" rx="2.5" ry="5.5" stroke-width="1.3"/>
<ellipse cx="-3.8" cy="0" rx="1.3" ry="3.3" stroke-width="1.1"/>
<path d="M-1.6,-2H3M-1.6,2H3" stroke-width="0.8"/>
</g>
<g transform="translate(382.6 539.2) rotate(-28)" fill="#fff" stroke="#000" stroke-width="0.9" stroke-linejoin="round">
<path d="M2.5,-4.9 L8,-4.9 A1.8 4.9 0 0 1 8,4.9 L2.5,4.9Z" stroke-width="1.3"/>
<path d="M4.6,-4.9V4.9M6.2,-4.9V4.9" stroke-width="0.9"/>
<path d="M-4,-5.6 L3,-5.6 L3,5.6 L-4,5.6 A2.5 5.6 0 0 1 -4,-5.6Z" stroke-width="1.3"/>
<ellipse cx="-3.8" cy="0" rx="2.5" ry="5.5" stroke-width="1.3"/>
<ellipse cx="-3.8" cy="0" rx="1.3" ry="3.3" stroke-width="1.1"/>
<path d="M-1.6,-2H3M-1.6,2H3" stroke-width="0.8"/>
</g>
<g transform="translate(792 755) rotate(210)" fill="#fff" stroke="#000" stroke-width="0.9" stroke-linejoin="round">
<path d="M2.5,-4.9 L8,-4.9 A1.8 4.9 0 0 1 8,4.9 L2.5,4.9Z" stroke-width="1.3"/>
<path d="M4.6,-4.9V4.9M6.2,-4.9V4.9" stroke-width="0.9"/>
<path d="M-4,-5.6 L3,-5.6 L3,5.6 L-4,5.6 A2.5 5.6 0 0 1 -4,-5.6Z" stroke-width="1.3"/>
<ellipse cx="-3.8" cy="0" rx="2.5" ry="5.5" stroke-width="1.3"/>
<ellipse cx="-3.8" cy="0" rx="1.3" ry="3.3" stroke-width="1.1"/>
<path d="M-1.6,-2H3M-1.6,2H3" stroke-width="0.8"/>
</g>
<g transform="translate(354.8 593.8) rotate(30)" fill="#fff" stroke="#000" stroke-width="0.9" stroke-linejoin="round">
<path d="M2.5,-4.9 L8,-4.9 A1.8 4.9 0 0 1 8,4.9 L2.5,4.9Z" stroke-width="1.3"/>
<path d="M4.6,-4.9V4.9M6.2,-4.9V4.9" stroke-width="0.9"/>
<path d="M-4,-5.6 L3,-5.6 L3,5.6 L-4,5.6 A2.5 5.6 0 0 1 -4,-5.6Z" stroke-width="1.3"/>
<ellipse cx="-3.8" cy="0" rx="2.5" ry="5.5" stroke-width="1.3"/>
<ellipse cx="-3.8" cy="0" rx="1.3" ry="3.3" stroke-width="1.1"/>
<path d="M-1.6,-2H3M-1.6,2H3" stroke-width="0.8"/>
</g>
<g transform="translate(600.5 891) rotate(150)" fill="#fff" stroke="#000" stroke-width="0.9" stroke-linejoin="round">
<path d="M2.5,-4.9 L8,-4.9 A1.8 4.9 0 0 1 8,4.9 L2.5,4.9Z" stroke-width="1.3"/>
<path d="M4.6,-4.9V4.9M6.2,-4.9V4.9" stroke-width="0.9"/>
<path d="M-4,-5.6 L3,-5.6 L3,5.6 L-4,5.6 A2.5 5.6 0 0 1 -4,-5.6Z" stroke-width="1.3"/>
<ellipse cx="-3.8" cy="0" rx="2.5" ry="5.5" stroke-width="1.3"/>
<ellipse cx="-3.8" cy="0" rx="1.3" ry="3.3" stroke-width="1.1"/>
<path d="M-1.6,-2H3M-1.6,2H3" stroke-width="0.8"/>
</g>
<g transform="translate(376.6 590.8) rotate(30)" fill="#fff" stroke="#000" stroke-width="0.9" stroke-linejoin="round">
<path d="M2.5,-4.9 L8,-4.9 A1.8 4.9 0 0 1 8,4.9 L2.5,4.9Z" stroke-width="1.3"/>
<path d="M4.6,-4.9V4.9M6.2,-4.9V4.9" stroke-width="0.9"/>
<path d="M-4,-5.6 L3,-5.6 L3,5.6 L-4,5.6 A2.5 5.6 0 0 1 -4,-5.6Z" stroke-width="1.3"/>
<ellipse cx="-3.8" cy="0" rx="2.5" ry="5.5" stroke-width="1.3"/>
<ellipse cx="-3.8" cy="0" rx="1.3" ry="3.3" stroke-width="1.1"/>
<path d="M-1.6,-2H3M-1.6,2H3" stroke-width="0.8"/>
</g>
<g transform="translate(955.6 382) rotate(150)" fill="#fff" stroke="#000" stroke-width="0.9" stroke-linejoin="round">
<path d="M2.5,-4.9 L8,-4.9 A1.8 4.9 0 0 1 8,4.9 L2.5,4.9Z" stroke-width="1.3"/>
<path d="M4.6,-4.9V4.9M6.2,-4.9V4.9" stroke-width="0.9"/>
<path d="M-4,-5.6 L3,-5.6 L3,5.6 L-4,5.6 A2.5 5.6 0 0 1 -4,-5.6Z" stroke-width="1.3"/>
<ellipse cx="-3.8" cy="0" rx="2.5" ry="5.5" stroke-width="1.3"/>
<ellipse cx="-3.8" cy="0" rx="1.3" ry="3.3" stroke-width="1.1"/>
<path d="M-1.6,-2H3M-1.6,2H3" stroke-width="0.8"/>
</g>
<g transform="translate(200.7 670.5) rotate(90)" fill="#fff" stroke="#000" stroke-width="0.9" stroke-linejoin="round">
<path d="M2.5,-4.9 L8,-4.9 A1.8 4.9 0 0 1 8,4.9 L2.5,4.9Z" stroke-width="1.3"/>
<path d="M4.6,-4.9V4.9M6.2,-4.9V4.9" stroke-width="0.9"/>
<path d="M-4,-5.6 L3,-5.6 L3,5.6 L-4,5.6 A2.5 5.6 0 0 1 -4,-5.6Z" stroke-width="1.3"/>
<ellipse cx="-3.8" cy="0" rx="2.5" ry="5.5" stroke-width="1.3"/>
<ellipse cx="-3.8" cy="0" rx="1.3" ry="3.3" stroke-width="1.1"/>
<path d="M-1.6,-2H3M-1.6,2H3" stroke-width="0.8"/>
</g>
<g transform="translate(740 812.7) rotate(210)" fill="#fff" stroke="#000" stroke-width="0.9" stroke-linejoin="round">
<path d="M2.5,-4.9 L8,-4.9 A1.8 4.9 0 0 1 8,4.9 L2.5,4.9Z" stroke-width="1.3"/>
<path d="M4.6,-4.9V4.9M6.2,-4.9V4.9" stroke-width="0.9"/>
<path d="M-4,-5.6 L3,-5.6 L3,5.6 L-4,5.6 A2.5 5.6 0 0 1 -4,-5.6Z" stroke-width="1.3"/>
<ellipse cx="-3.8" cy="0" rx="2.5" ry="5.5" stroke-width="1.3"/>
<ellipse cx="-3.8" cy="0" rx="1.3" ry="3.3" stroke-width="1.1"/>
<path d="M-1.6,-2H3M-1.6,2H3" stroke-width="0.8"/>
</g>
<g transform="translate(657.6 241) rotate(90)" fill="#fff" stroke="#000" stroke-width="0.9" stroke-linejoin="round">
<path d="M0,-4.8 H15 V4.8 H0Z" stroke-width="1.3"/>
<path d="M0,-1.8H15M0,1.8H15" stroke-width="0.8"/>
</g>
<g transform="translate(657.6 261) rotate(90)" fill="#fff" stroke="#000" stroke-width="0.9" stroke-linejoin="round">
<path d="M0.0,-2.9L0.8,2.9M1.9,-2.9L2.7,2.9M3.8,-2.9L4.6,2.9M5.7,-2.9L6.5,2.9M7.6,-2.9L8.4,2.9M9.5,-2.9L10.3,2.9M11.4,-2.9L12.2,2.9M13.3,-2.9L14.1,2.9M0,-2.9H15M0,2.9H15M0,0H15" fill="none" stroke-width="0.95"/>
</g>
<g transform="translate(587.5 834.6) rotate(30)" fill="#fff" stroke="#000" stroke-width="0.9" stroke-linejoin="round">
<path d="M0,-4.4 A1.6 4.4 0 0 0 0,4.4" fill="none" stroke-width="0.9"/>
</g>
<g transform="translate(412.3 536.2) rotate(30)" fill="#fff" stroke="#000" stroke-width="0.9" stroke-linejoin="round">
<path d="M0,-4.8 H15 V4.8 H0Z" stroke-width="1.3"/>
<path d="M0,-1.8H15M0,1.8H15" stroke-width="0.8"/>
</g>
<g transform="translate(427.8 545.2) rotate(30)" fill="#fff" stroke="#000" stroke-width="0.9" stroke-linejoin="round">
<path d="M0.0,-2.9L0.8,2.9M1.9,-2.9L2.7,2.9M3.8,-2.9L4.6,2.9M5.7,-2.9L6.5,2.9M7.6,-2.9L8.4,2.9M9.5,-2.9L10.3,2.9M11.4,-2.9L12.2,2.9M13.3,-2.9L14.1,2.9M0,-2.9H15M0,2.9H15M0,0H15" fill="none" stroke-width="0.95"/>
</g>
<g transform="translate(773.5 744.3) rotate(30)" fill="#fff" stroke="#000" stroke-width="0.9" stroke-linejoin="round">
<path d="M0,-4.4 A1.6 4.4 0 0 0 0,4.4" fill="none" stroke-width="0.9"/>
</g>
<g transform="translate(371.5 603.6) rotate(30)" fill="#fff" stroke="#000" stroke-width="0.9" stroke-linejoin="round">
<path d="M0,-4.4 A1.6 4.4 0 0 0 0,4.4" fill="none" stroke-width="0.9"/>
</g>
<g transform="translate(393.6 600.7) rotate(30)" fill="#fff" stroke="#000" stroke-width="0.9" stroke-linejoin="round">
<path d="M0,-4.4 A1.6 4.4 0 0 0 0,4.4" fill="none" stroke-width="0.9"/>
</g>
<g transform="translate(572 896.4) rotate(210)" fill="#fff" stroke="#000" stroke-width="0.9" stroke-linejoin="round">
<path d="M0,-4.8 H17 V4.8 H0Z" stroke-width="1.3"/>
<path d="M0,-1.8H17M0,1.8H17" stroke-width="0.8"/>
</g>
<g transform="translate(554.5 886.3) rotate(210)" fill="#fff" stroke="#000" stroke-width="0.9" stroke-linejoin="round">
<path d="M0.0,-2.9L0.8,2.9M1.9,-2.9L2.7,2.9M3.8,-2.9L4.6,2.9M5.7,-2.9L6.5,2.9M7.6,-2.9L8.4,2.9M9.5,-2.9L10.3,2.9M11.4,-2.9L12.2,2.9M13.3,-2.9L14.1,2.9M0,-2.9H15M0,2.9H15M0,0H15" fill="none" stroke-width="0.95"/>
</g>
<g transform="translate(938.5 391.6) rotate(-30)" fill="#fff" stroke="#000" stroke-width="0.9" stroke-linejoin="round">
<path d="M0,-4.4 A1.6 4.4 0 0 0 0,4.4" fill="none" stroke-width="0.9"/>
</g>
<g transform="translate(211.8 695.4) rotate(31)" fill="#fff" stroke="#000" stroke-width="0.9" stroke-linejoin="round">
<path d="M0,-4.8 H16 V4.8 H0Z" stroke-width="1.3"/>
<path d="M0,-1.8H16M0,1.8H16" stroke-width="0.8"/>
</g>
<g transform="translate(228 705) rotate(29)" fill="#fff" stroke="#000" stroke-width="0.9" stroke-linejoin="round">
<path d="M0.0,-2.9L0.8,2.9M1.9,-2.9L2.7,2.9M3.8,-2.9L4.6,2.9M5.7,-2.9L6.5,2.9M7.6,-2.9L8.4,2.9M9.5,-2.9L10.3,2.9M11.4,-2.9L12.2,2.9M13.3,-2.9L14.1,2.9M0,-2.9H14M0,2.9H14M0,0H14" fill="none" stroke-width="0.95"/>
</g>
<g transform="translate(721.5 802.4) rotate(30)" fill="#fff" stroke="#000" stroke-width="0.9" stroke-linejoin="round">
<path d="M0,-4.4 A1.6 4.4 0 0 0 0,4.4" fill="none" stroke-width="0.9"/>
</g>
<g transform="translate(989.7 361.1) rotate(27.4)" fill="#fff" stroke="#000" stroke-width="1.1" stroke-linejoin="round">
<path d="M-13.4,-4.4 H13.4 A2.3 4.4 0 0 1 13.4,4.4 H-13.4 A2.3 4.4 0 0 1 -13.4,-4.4Z"/>
<ellipse cx="-13.4" cy="0" rx="2.3" ry="4.4" stroke-width="0.9"/>
<path d="M-10.2,-4.4V4.4M-8.4,-4.4V4.4M-6.800000000000001,-4.4V4.4" stroke-width="0.8"/>
<ellipse cx="13.4" cy="0" rx="2.3" ry="4.4"/>
<path d="M10.0,-4.4V4.4M8.2,-4.4V4.4M6.4,-4.4V4.4" stroke-width="0.8"/>
<g transform="rotate(118.6)"><path d="M1,-4.7 H12 A2.3 4.7 0 0 1 12,4.7 H1 Z" stroke-width="1.1"/><ellipse cx="12" cy="0" rx="2.3" ry="4.7"/><path d="M8.8,-4.7V4.7M7,-4.7V4.7M5.2,-4.7V4.7" stroke-width="0.8"/></g>
<path d="M-3,-2.8000000000000003 H5 L3,-1.0000000000000004 H-1Z" stroke-width="0.8"/>
</g>
<g transform="translate(338.2 567.6) rotate(27.4)" fill="#fff" stroke="#000" stroke-width="1.1" stroke-linejoin="round">
<path d="M-13.4,-4.4 H13.4 A2.3 4.4 0 0 1 13.4,4.4 H-13.4 A2.3 4.4 0 0 1 -13.4,-4.4Z"/>
<ellipse cx="-13.4" cy="0" rx="2.3" ry="4.4" stroke-width="0.9"/>
<path d="M-10.2,-4.4V4.4M-8.4,-4.4V4.4M-6.800000000000001,-4.4V4.4" stroke-width="0.8"/>
<ellipse cx="13.4" cy="0" rx="2.3" ry="4.4"/>
<path d="M10.0,-4.4V4.4M8.2,-4.4V4.4M6.4,-4.4V4.4" stroke-width="0.8"/>
<g transform="rotate(118.6)"><path d="M1,-4.7 H12 A2.3 4.7 0 0 1 12,4.7 H1 Z" stroke-width="1.1"/><ellipse cx="12" cy="0" rx="2.3" ry="4.7"/><path d="M8.8,-4.7V4.7M7,-4.7V4.7M5.2,-4.7V4.7" stroke-width="0.8"/></g>
<path d="M-3,-2.8000000000000003 H5 L3,-1.0000000000000004 H-1Z" stroke-width="0.8"/>
</g>
<g transform="translate(640.5 867.3) rotate(30)" fill="#fff" stroke="#000" stroke-width="1.1" stroke-linejoin="round">
<path d="M-13,-4.0 H13 A2.3 4.0 0 0 1 13,4.0 H-13 A2.3 4.0 0 0 1 -13,-4.0Z"/>
<ellipse cx="-13" cy="0" rx="2.3" ry="4.0" stroke-width="0.9"/>
<path d="M-9.8,-4.0V4.0M-8,-4.0V4.0M-6.4,-4.0V4.0" stroke-width="0.8"/>
<path d="M6,-6.2 H13 A3 6.2 0 0 1 13,6.2 H6Z" stroke-width="1.2"/><ellipse cx="13" cy="0" rx="3" ry="6.2" stroke-width="1.2"/><ellipse cx="13" cy="0" rx="1.9" ry="4.3" stroke-width="1.4"/>
<g transform="rotate(115)"><path d="M1,-4.6 H11.5 A2.3 4.6 0 0 1 11.5,4.6 H1 Z" stroke-width="1.1"/><ellipse cx="11.5" cy="0" rx="2.3" ry="4.6"/><path d="M8.3,-4.6V4.6M6.5,-4.6V4.6M4.7,-4.6V4.6" stroke-width="0.8"/></g>
<path d="M-3,-2.4 H5 L3,-0.6000000000000001 H-1Z" stroke-width="0.8"/>
</g>
<g fill="#fff" stroke="#000" stroke-width="1.05" stroke-linejoin="round">
<path d="M197.0,621 V641 A3.9 1.6 0 0 0 204.8,641 V621Z"/>
<path d="M198.9,636.5H202.9M198.9,638.5H202.9" stroke-width="0.7"/>
<g transform="translate(200.9 630.5) rotate(212)"><path d="M0,-4.3 H9 A2.2 4.3 0 0 1 9,4.3 H0Z" stroke-width="1.2"/><ellipse cx="9" cy="0" rx="2.2" ry="4.3"/><path d="M6,-4.3V4.3M4.4,-4.3V4.3" stroke-width="0.8"/></g>
<path d="M198.9,627 H202.4 V634" fill="none" stroke-width="0.8"/>
<path d="M194.6,615.8 V620.5 A6.3 2.6 0 0 0 207.20000000000002,620.5 V615.8Z" stroke-width="1.2"/>
<ellipse cx="200.9" cy="615.8" rx="6.3" ry="2.7" stroke-width="1.2"/><ellipse cx="200.9" cy="615.9" rx="3.9" ry="1.5" stroke-width="1.1"/>
</g>
<text x="592" y="153.6" font-size="20.5" text-anchor="middle" >D</text>
<text x="610" y="165.1" font-size="20.5" text-anchor="middle" >10</text>
<text x="626.5" y="175.1" font-size="20.5" text-anchor="middle" >B</text>
<text x="968.5" y="318.6" font-size="20.5" text-anchor="middle" >C</text>
<text x="993" y="330.6" font-size="20.5" text-anchor="middle" >11</text>
<text x="968.5" y="422.1" font-size="20.5" text-anchor="middle" >A</text>
<text x="312.8" y="517.6" font-size="20.5" text-anchor="middle" >C</text>
<text x="338" y="533.6" font-size="20.5" text-anchor="middle" >11</text>
<text x="364.5" y="515.6" font-size="20.5" text-anchor="middle" >A</text>
<text x="395.3" y="568.2" font-size="20.5" text-anchor="middle" >A</text>
<text x="293" y="607.1" font-size="20.5" text-anchor="middle" >C</text>
<text x="315.5" y="619.2" font-size="20.5" text-anchor="middle" >9</text>
<text x="337" y="632.2" font-size="20.5" text-anchor="middle" >A</text>
<text x="239" y="609.4" font-size="20.5" text-anchor="middle" >3</text>
<text x="144.5" y="646.1" font-size="20.5" text-anchor="middle" >C</text>
<text x="167" y="656.6" font-size="20.5" text-anchor="middle" >7</text>
<text x="166.5" y="679.1" font-size="20.5" text-anchor="middle" >A</text>
<text x="620.3" y="405.1" font-size="20.5" text-anchor="middle" >5</text>
<text x="730.7" y="476.6" font-size="20.5" text-anchor="middle" >6</text>
<text x="495.7" y="703.6" font-size="20.5" text-anchor="middle" >4</text>
<text x="700.8" y="669.1" font-size="20.5" text-anchor="middle" >4</text>
<text x="441.6" y="868.6" font-size="20.5" text-anchor="middle" >4</text>
<text x="811.4" y="727.1" font-size="20.5" text-anchor="middle" >A</text>
<text x="833.8" y="740.1" font-size="20.5" text-anchor="middle" >9</text>
<text x="855" y="752.1" font-size="20.5" text-anchor="middle" >C</text>
<text x="718" y="851.2" font-size="20.5" text-anchor="middle" >A</text>
<text x="742.4" y="863.4" font-size="20.5" text-anchor="middle" >9</text>
<text x="761" y="876.0" font-size="20.5" text-anchor="middle" >C</text>
<text x="620.3" y="819.6" font-size="20.5" text-anchor="middle" >B</text>
<text x="643.6" y="833.1" font-size="20.5" text-anchor="middle" >8</text>
<text x="575" y="869.1" font-size="20.5" text-anchor="middle" >A</text>
<text x="630.5" y="911.1" font-size="20.5" text-anchor="middle" >A</text>
<text x="654" y="923.6" font-size="20.5" text-anchor="middle" >9</text>
<text x="673.5" y="936.6" font-size="20.5" text-anchor="middle" >C</text>
<text x="573.5" y="195.3" font-size="12" text-anchor="middle" >T3</text>
<text x="953" y="356.3" font-size="12" text-anchor="middle" >PbL</text>
<text x="271.5" y="520.2" font-size="12" text-anchor="middle" >Pi1</text>
<text x="251.6" y="548.7" font-size="12" text-anchor="middle" >T</text>
<text x="158.5" y="596.2" font-size="12" text-anchor="middle" >E</text>
<text x="895" y="803.8" font-size="12" text-anchor="middle" >Pi1</text>
<text x="824" y="853.3" font-size="12" text-anchor="middle" >E</text>
<text x="727.5" y="910.8" font-size="12" text-anchor="middle" >T</text>
<text x="468.8" y="30" font-size="16" text-anchor="middle" textLength="126.5" lengthAdjust="spacingAndGlyphs">HYD TANK(3020)</text>
<text x="944" y="226.3" font-size="16" text-anchor="middle" textLength="81" lengthAdjust="spacingAndGlyphs">MCV(4050)</text>
<text x="239.75" y="378.5" font-size="16" text-anchor="middle" textLength="132" lengthAdjust="spacingAndGlyphs">BOOM CYLINDER</text>
<text x="239.75" y="394.9" font-size="16" text-anchor="middle" textLength="44.6" lengthAdjust="spacingAndGlyphs">(4205)</text>
<text x="727.75" y="1107.1" font-size="16" text-anchor="middle" textLength="132.5" lengthAdjust="spacingAndGlyphs">BOOM CYLINDER</text>
<text x="727.75" y="1123.1" font-size="16" text-anchor="middle" textLength="45.4" lengthAdjust="spacingAndGlyphs">(4205)</text>
<line x1="592.5" y1="157" x2="592.5" y2="185" stroke="#333" stroke-width="0.9"/>
<line x1="609.5" y1="168" x2="609.5" y2="196" stroke="#333" stroke-width="0.9"/>
<line x1="626.5" y1="178" x2="626.5" y2="204" stroke="#8a8a8a" stroke-width="1"/>
<line x1="969.5" y1="322" x2="969.5" y2="343" stroke="#8a8a8a" stroke-width="1"/>
<line x1="993.5" y1="334" x2="993.5" y2="356" stroke="#8a8a8a" stroke-width="1"/>
<line x1="969.5" y1="381" x2="969.5" y2="403" stroke="#8a8a8a" stroke-width="1"/>
<line x1="312.5" y1="522.6" x2="312.5" y2="548" stroke="#333" stroke-width="0.9"/>
<line x1="338.5" y1="538" x2="338.5" y2="563" stroke="#333" stroke-width="0.9"/>
<line x1="364.5" y1="520" x2="364.5" y2="545" stroke="#333" stroke-width="0.9"/>
<line x1="364" y1="578" x2="386.5" y2="566" stroke="#333" stroke-width="0.9"/>
<line x1="292.5" y1="563" x2="292.5" y2="588" stroke="#8a8a8a" stroke-width="1"/>
<line x1="315.5" y1="578" x2="315.5" y2="602" stroke="#333" stroke-width="0.9"/>
<line x1="337.5" y1="587" x2="337.5" y2="613" stroke="#333" stroke-width="0.9"/>
<line x1="204.5" y1="602.5" x2="230.4" y2="602.5" stroke="#333" stroke-width="0.9"/>
<line x1="155" y1="633" x2="177.6" y2="620.5" stroke="#333" stroke-width="0.9"/>
<line x1="176.4" y1="644" x2="196.7" y2="633" stroke="#333" stroke-width="0.9"/>
<line x1="175.3" y1="666.6" x2="195.5" y2="655.4" stroke="#333" stroke-width="0.9"/>
<line x1="629" y1="397.5" x2="652.5" y2="397.5" stroke="#8a8a8a" stroke-width="1"/>
<line x1="731.5" y1="482" x2="731.5" y2="505" stroke="#8a8a8a" stroke-width="1"/>
<line x1="495.5" y1="707" x2="495.5" y2="733" stroke="#333" stroke-width="0.9"/>
<line x1="700.5" y1="672" x2="700.5" y2="697" stroke="#333" stroke-width="0.9"/>
<line x1="452.6" y1="857.6" x2="474.8" y2="845.3" stroke="#333" stroke-width="0.9"/>
<line x1="811.5" y1="731" x2="811.5" y2="760" stroke="#333" stroke-width="0.9"/>
<line x1="833.5" y1="745" x2="833.5" y2="772" stroke="#333" stroke-width="0.9"/>
<line x1="855.5" y1="757" x2="855.5" y2="786" stroke="#8a8a8a" stroke-width="1"/>
<line x1="728" y1="839" x2="751" y2="825" stroke="#333" stroke-width="0.9"/>
<line x1="752" y1="852" x2="772" y2="840" stroke="#333" stroke-width="0.9"/>
<line x1="772" y1="866" x2="794" y2="851" stroke="#333" stroke-width="0.9"/>
<line x1="620.5" y1="823.5" x2="620.5" y2="849" stroke="#333" stroke-width="0.9"/>
<line x1="643.5" y1="837" x2="643.5" y2="862" stroke="#8a8a8a" stroke-width="1"/>
<line x1="585.5" y1="865" x2="612" y2="879" stroke="#333" stroke-width="0.9"/>
<line x1="640" y1="898.5" x2="664.5" y2="884.5" stroke="#333" stroke-width="0.9"/>
<line x1="662.5" y1="911.8" x2="685" y2="899" stroke="#333" stroke-width="0.9"/>
<line x1="685" y1="923.4" x2="709" y2="910" stroke="#333" stroke-width="0.9"/>
<line x1="558" y1="170" x2="589" y2="188" stroke="#2a2a2a" stroke-width="0.9"/>
<line x1="873" y1="293.5" x2="965" y2="346.5" stroke="#2a2a2a" stroke-width="0.9"/>
<line x1="240.5" y1="511.5" x2="310" y2="552" stroke="#2a2a2a" stroke-width="0.9"/>
<line x1="232.6" y1="521.6" x2="290" y2="555.5" stroke="#2a2a2a" stroke-width="0.9"/>
<line x1="119" y1="582" x2="178" y2="616.5" stroke="#2a2a2a" stroke-width="0.9"/>
<line x1="119" y1="582" x2="230.4" y2="518" stroke="#333" stroke-width="0.9" stroke-dasharray="12 2.5 2 2.5"/>
<line x1="857" y1="794" x2="912" y2="824.9" stroke="#333" stroke-width="0.9"/>
<line x1="912" y1="824.9" x2="934" y2="837.2" stroke="#333" stroke-width="0.9" stroke-dasharray="4 3.5"/>
<line x1="934" y1="837.2" x2="869.7" y2="874.7" stroke="#333" stroke-width="0.9" stroke-dasharray="6 3 1.5 3"/>
<line x1="869.7" y1="874.7" x2="901.4" y2="892.6" stroke="#333" stroke-width="0.9" stroke-dasharray="4 3.5"/>
<line x1="800" y1="849" x2="836.3" y2="868.9" stroke="#333" stroke-width="0.9"/>
<line x1="836.3" y1="868.9" x2="896" y2="904" stroke="#333" stroke-width="0.9" stroke-dasharray="4.5 3.5"/>
<line x1="714" y1="909" x2="748.6" y2="928.5" stroke="#333" stroke-width="0.9"/>
<line x1="748.6" y1="928.5" x2="795.4" y2="954.8" stroke="#333" stroke-width="0.9" stroke-dasharray="4.5 3.5"/>
<line x1="795.4" y1="954.8" x2="888.2" y2="901" stroke="#333" stroke-width="0.9" stroke-dasharray="6 3 1.5 3"/>
</svg>
</body></html>
